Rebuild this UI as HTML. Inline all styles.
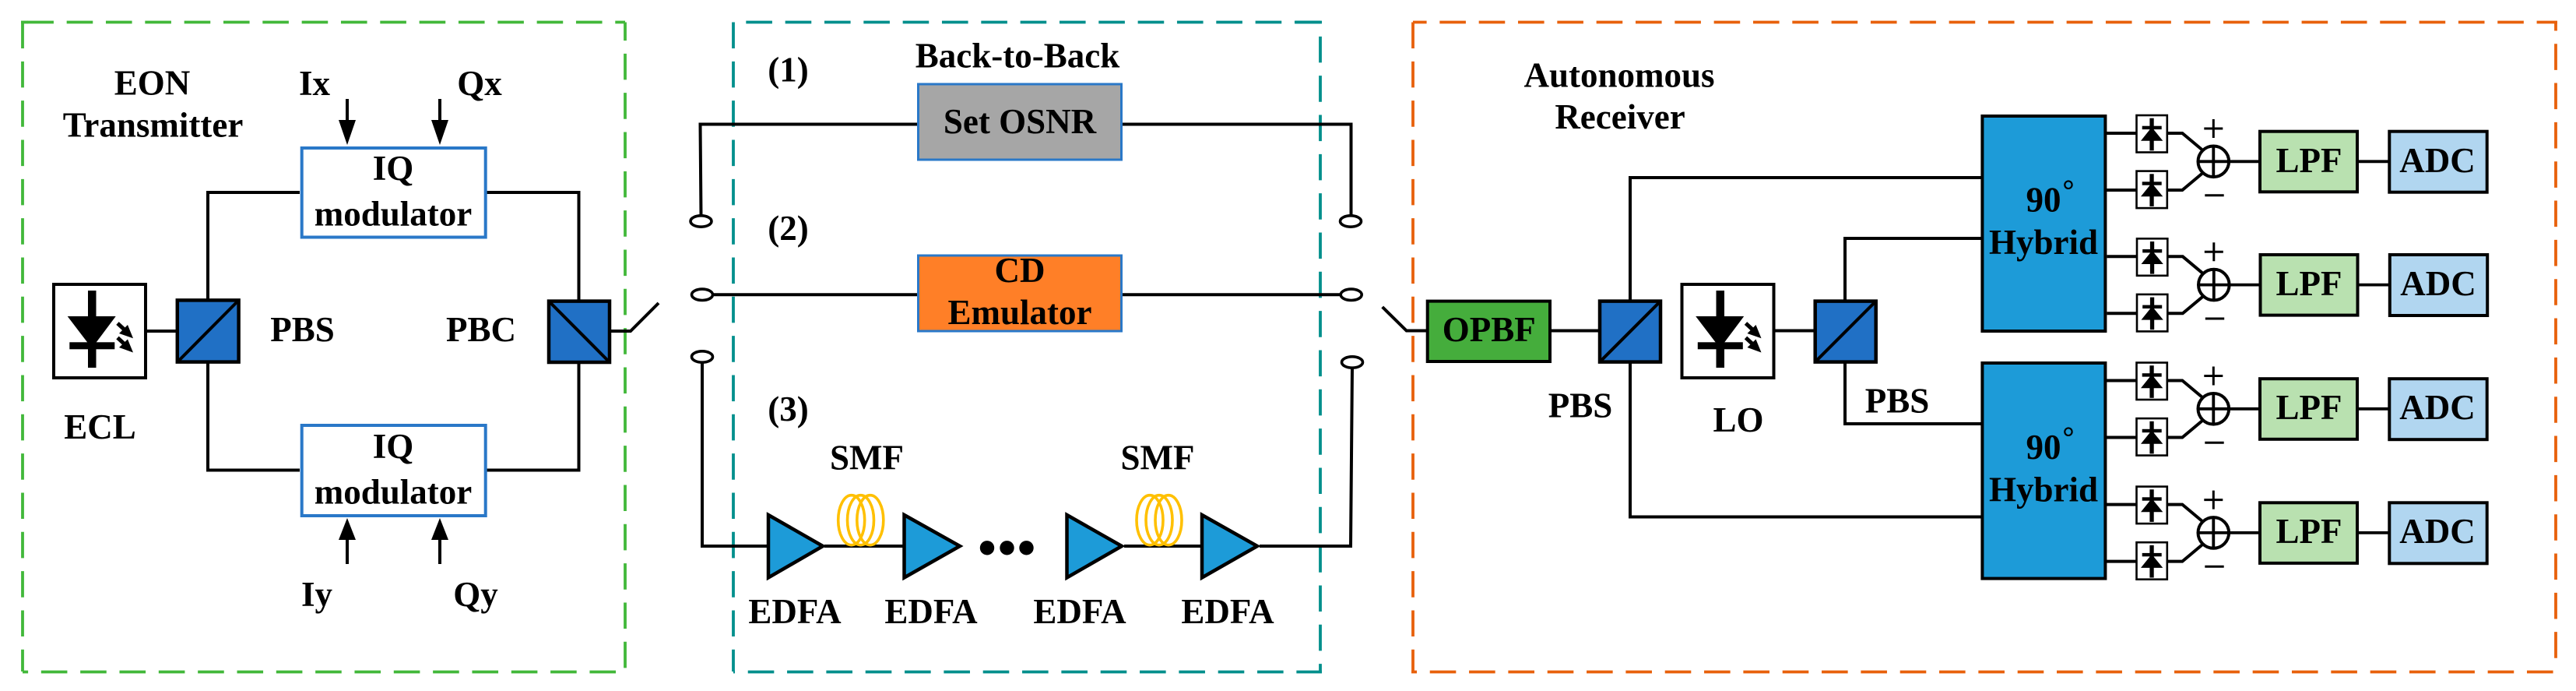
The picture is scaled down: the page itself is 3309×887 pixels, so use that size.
<!DOCTYPE html>
<html>
<head>
<meta charset="utf-8">
<style>
html,body{margin:0;padding:0;background:#fff;width:3309px;height:887px;overflow:hidden}
svg{display:block}
text{font-family:"Liberation Serif",serif;font-weight:bold;font-size:45px;fill:#000;text-anchor:middle}
.d{fill:none;stroke-width:3.8}
.l{fill:none;stroke:#000;stroke-width:4}
.iq{fill:#fff;stroke:#2a78c8;stroke-width:4}
.cube{fill:#2070c5;stroke:#000;stroke-width:4.5}
.tri{fill:#1d9bd8;stroke:#000;stroke-width:4.5;stroke-linejoin:miter}
.hy{fill:#1d9bd8;stroke:#000;stroke-width:4}
.sw{fill:#fff;stroke:#000;stroke-width:3.6}
.coil{fill:none;stroke:#ffc000;stroke-width:3.6}
</style>
</head>
<body>
<svg xmlns="http://www.w3.org/2000/svg" width="3309" height="887" viewBox="0 0 3309 887">
<defs>
  <g id="laser">
    <rect x="69" y="365" width="118" height="120" fill="#fff" stroke="#000" stroke-width="4"/>
    <rect x="113" y="373" width="10.5" height="99" fill="#000"/>
    <polygon points="86.7,406 148.7,406 118,447" fill="#000"/>
    <rect x="89.3" y="439.3" width="58" height="9" fill="#000"/>
    <path d="M151,415 L164,427 M151,433.5 L164,445.5" stroke="#000" stroke-width="5" fill="none"/>
    <polygon points="171,434.3 153,428 164,417" fill="#000"/>
    <polygon points="171,452.5 153,446 164,435.5" fill="#000"/>
  </g>
  <g id="pd">
    <rect x="2744.5" y="148" width="39.3" height="47.5" fill="#fff" stroke="#000" stroke-width="2.6"/>
    <rect x="2761.4" y="151.7" width="5.3" height="41.6" fill="#000"/>
    <rect x="2751.7" y="161.7" width="25" height="4.4" fill="#000"/>
    <polygon points="2764,163.3 2778.3,180.7 2750,180.7" fill="#000"/>
  </g>
  <g id="row">
    <path class="l" d="M2706,171 H2744 M2706,244 H2744 M2785,171 H2803.3 L2829,192.5 M2785,244 H2803.3 L2829,222.5"/>
    <use href="#pd"/>
    <use href="#pd" transform="translate(0,71.6)"/>
    <circle cx="2843.3" cy="207.3" r="19.8" fill="#fff" stroke="#000" stroke-width="4"/>
    <path d="M2843.3,187.5 V227 M2823.5,207.3 H2901 M3030,207.3 H3068" stroke="#000" stroke-width="3.8" fill="none"/>
    <path d="M2843.3,153 V177 M2831.3,165 H2855.3 M2832.3,250.7 H2856.7" stroke="#000" stroke-width="3" fill="none"/>
    <rect x="2903" y="168.7" width="125" height="77.6" fill="#b9e1b0" stroke="#000" stroke-width="4"/>
    <rect x="3069.3" y="168.7" width="125.4" height="78" fill="#b1d6f0" stroke="#000" stroke-width="4"/>
  </g>
</defs>

<!-- dashed group frames -->
<g stroke="#42b83a">
  <path class="d" stroke-dasharray="33.6 16.73" d="M29,28.5 H803" stroke-dashoffset="44"/>
  <path class="d" stroke-dasharray="33.6 16.73" d="M29,28.5 V862"/>
  <path class="d" stroke-dasharray="33.6 16.73" d="M29,862.5 H803" stroke-dashoffset="26.5"/>
  <path class="d" stroke-dasharray="33.6 16.73" d="M803,28.5 V862" stroke-dashoffset="10"/>
  <path d="M27,28.5 H36" stroke-width="3.8"/>
</g>
<g stroke="#008f8c">
  <path class="d" stroke-dasharray="33.6 16.73" d="M942,28.5 H1696" stroke-dashoffset="34"/>
  <path class="d" stroke-dasharray="33.6 16.73" d="M942,28.5 V862"/>
  <path class="d" stroke-dasharray="33.6 16.73" d="M942,862.5 H1698" stroke-dashoffset="31.6"/>
  <path class="d" stroke-dasharray="33.6 16.73" d="M1696,28.5 V862" stroke-dashoffset="32"/>
  <path d="M1664,28.5 H1698" stroke-width="3.8"/>
</g>
<g stroke="#e8610c">
  <path class="d" stroke-dasharray="33.6 16.73" d="M1815,28.5 H3285" stroke-dashoffset="16"/>
  <path class="d" stroke-dasharray="33.6 16.73" d="M1815,28.5 V862"/>
  <path class="d" stroke-dasharray="33.6 16.73" d="M1813,862.5 H3285" stroke-dashoffset="26.6"/>
  <path class="d" stroke-dasharray="33.6 16.73" d="M3283,28.5 V860" stroke-dashoffset="22.6"/>
</g>

<!-- transmitter wiring -->
<path class="l" d="M385,247 H267 V385 M267,466 V603.5 H385 M625,247 H743.5 V385 M743.5,466 V603.5 H625 M189,425 H226 M785,425 H810 L846,389"/>
<use href="#laser"/>
<rect x="227.8" y="385.4" width="78.8" height="79.2" class="cube"/>
<path class="l" d="M228,464.6 L306.5,385.5"/>
<rect x="705" y="386.6" width="78" height="78.4" class="cube"/>
<path class="l" d="M705,386.6 L783,465"/>
<rect x="387.7" y="190" width="236" height="114.5" class="iq"/>
<rect x="387.7" y="546" width="236" height="116" class="iq"/>
<!-- signal arrows -->
<path class="l" d="M446,127 V160 M565,127 V160 M446,724 V690 M565,724 V690"/>
<polygon points="435,154 457,154 446,186" fill="#000"/>
<polygon points="554,154 576,154 565,186" fill="#000"/>
<polygon points="435,693 457,693 446,665" fill="#000"/>
<polygon points="554,693 576,693 565,665" fill="#000"/>

<text x="195.5" y="121.5">EON</text>
<text x="196.5" y="175.5">Transmitter</text>
<text x="404" y="122">Ix</text>
<text x="616" y="122">Qx</text>
<text x="505" y="231">IQ</text>
<text x="505" y="289.5">modulator</text>
<text x="505" y="588">IQ</text>
<text x="505" y="646.5">modulator</text>
<text x="388.5" y="438">PBS</text>
<text x="618" y="438">PBC</text>
<text x="128.5" y="563">ECL</text>
<text x="407" y="778">Iy</text>
<text x="611" y="778">Qy</text>

<!-- middle wiring -->
<path class="l" d="M900.5,277 L899.5,159.5 H1179.5 M1441,159.5 H1735.5 V277 M915,378.3 H1179.5 M1441,378.3 H1722 M902,465 V701 H987 M1059,701 H1162 M1444,701 H1543 M1618,701 H1735 L1737,471"/>
<ellipse cx="900.5" cy="284" rx="13.5" ry="7.2" class="sw"/>
<ellipse cx="902" cy="378.3" rx="13.5" ry="7.2" class="sw"/>
<ellipse cx="902" cy="458" rx="13.5" ry="7.2" class="sw"/>
<ellipse cx="1735" cy="284" rx="13.5" ry="7.2" class="sw"/>
<ellipse cx="1735.7" cy="378.3" rx="13.5" ry="7.2" class="sw"/>
<ellipse cx="1737" cy="465" rx="13.5" ry="7.2" class="sw"/>
<rect x="1179.5" y="108" width="261" height="97" fill="#a6a6a6" stroke="#2a78c8" stroke-width="3"/>
<rect x="1179.5" y="328" width="261" height="97" fill="#ff7f27" stroke="#2a78c8" stroke-width="3"/>

<polygon class="tri" points="987,661 1057,701 987,741.5"/>
<polygon class="tri" points="1161.5,661 1233,701 1161.5,741.5"/>
<polygon class="tri" points="1370.5,661 1441,701 1370.5,741.5"/>
<polygon class="tri" points="1544,661 1615,701 1544,741.5"/>
<g class="coil">
  <ellipse cx="1093.7" cy="667.7" rx="17" ry="32"/>
  <ellipse cx="1105.5" cy="667.7" rx="17" ry="32"/>
  <ellipse cx="1117.8" cy="667.7" rx="17" ry="32"/>
  <ellipse cx="1477" cy="667.7" rx="17" ry="32"/>
  <ellipse cx="1489" cy="667.7" rx="17" ry="32"/>
  <ellipse cx="1501" cy="667.7" rx="17" ry="32"/>
</g>
<circle cx="1268" cy="703.3" r="9.2"/>
<circle cx="1293.5" cy="703.3" r="9.2"/>
<circle cx="1318.5" cy="703.3" r="9.2"/>

<text x="1307" y="86.5">Back-to-Back</text>
<text x="1012.5" y="104.5">(1)</text>
<text x="1012.5" y="308">(2)</text>
<text x="1012.5" y="540">(3)</text>
<text x="1310" y="171">Set OSNR</text>
<text x="1310" y="362">CD</text>
<text x="1310" y="416">Emulator</text>
<text x="1113.5" y="602.5">SMF</text>
<text x="1487" y="602.5">SMF</text>
<text x="1021" y="800">EDFA</text>
<text x="1196" y="800">EDFA</text>
<text x="1387" y="800">EDFA</text>
<text x="1577" y="800">EDFA</text>

<!-- receiver wiring -->
<path class="l" d="M1775.7,394 L1806.7,424.5 H1832 M1993,424.5 H2053 M2094,385 V228 H2545 M2094,466 V663.5 H2545 M2280,424.5 H2330 M2370,385 V306 H2545 M2370,466 V544 H2545"/>
<rect x="1833.7" y="386.6" width="157.3" height="77.4" fill="#45ad3c" stroke="#000" stroke-width="4"/>
<rect x="2055" y="386.6" width="78" height="78" class="cube"/>
<path class="l" d="M2055,464.6 L2133,386.6"/>
<use href="#laser" transform="translate(2091.5,0)"/>
<rect x="2331.7" y="386.6" width="78" height="78" class="cube"/>
<path class="l" d="M2331.7,464.6 L2409.7,386.6"/>
<rect x="2546.4" y="149" width="158" height="276" class="hy"/>
<rect x="2546.4" y="466" width="158" height="276.6" class="hy"/>
<use href="#row"/>
<use href="#row" transform="translate(0.5,158.3)"/>
<use href="#row" transform="translate(0,317.5)"/>
<use href="#row" transform="translate(0,476.6)"/>

<text x="2080" y="111.5">Autonomous</text>
<text x="2081" y="165">Receiver</text>
<text x="1912.8" y="438">OPBF</text>
<text x="2030" y="535.5">PBS</text>
<text x="2233" y="554">LO</text>
<text x="2437" y="529.5">PBS</text>
<text x="2625" y="271.5">90</text>
<text x="2657" y="257" style="font-size:38px">°</text>
<text x="2625" y="326">Hybrid</text>
<text x="2625" y="589">90</text>
<text x="2657" y="574" style="font-size:38px">°</text>
<text x="2625" y="643.5">Hybrid</text>
<text x="2966" y="221">LPF</text>
<text x="3131" y="221">ADC</text>
<text x="2966" y="379">LPF</text>
<text x="3132" y="379">ADC</text>
<text x="2966" y="538">LPF</text>
<text x="3131" y="538">ADC</text>
<text x="2966" y="697">LPF</text>
<text x="3131" y="697">ADC</text>
</svg>
</body>
</html>
